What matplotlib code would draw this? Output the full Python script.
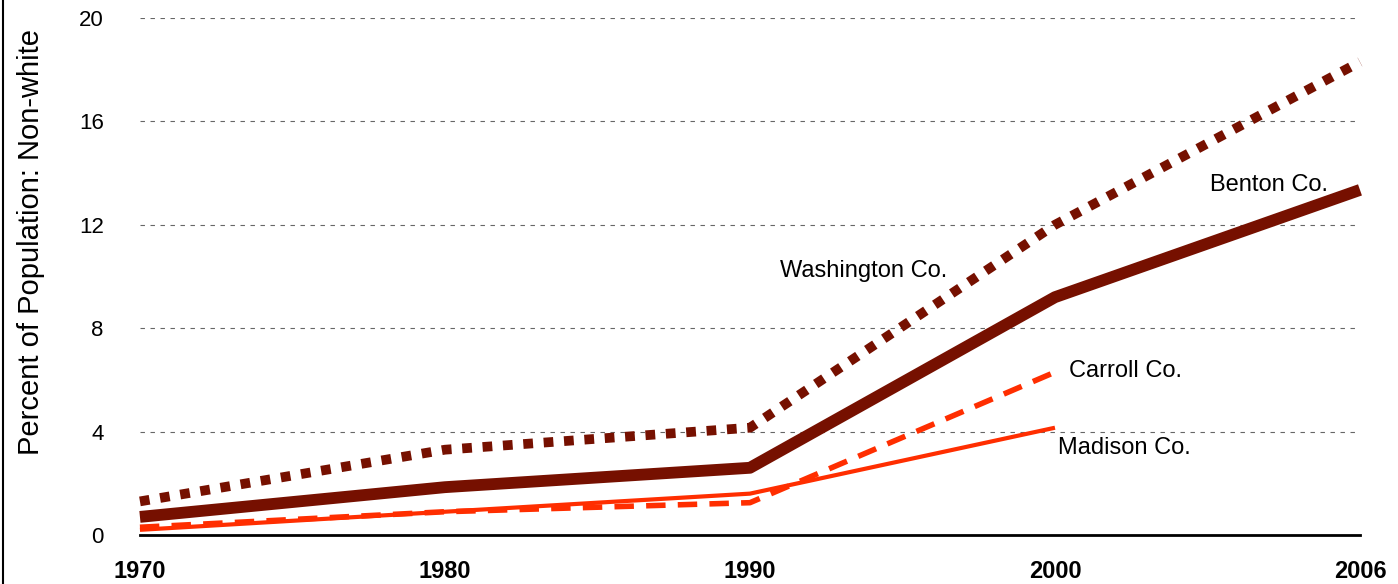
import numpy as np
import matplotlib
matplotlib.use("Agg")
import matplotlib.pyplot as plt
from matplotlib.lines import Line2D

plt.rcParams['font.family'] = ['Liberation Sans', 'DejaVu Sans']

# decades on the x axis (evenly spaced categories)
years = ['1970', '1980', '1990', '2000', '2006']
washington = [1.3, 3.3, 4.15, 12.0, 18.3]
benton = [0.7, 1.85, 2.6, 9.2, 13.35]
carroll = [0.3, 0.9, 1.25, 6.3]
madison = [0.2, 0.9, 1.6, 4.15]
yticks = [0, 4, 8, 12, 16, 20]

dark = '#761000'
bright = '#ff2e00'

fig = plt.figure(figsize=(13.98, 5.84), dpi=100)
ax = fig.add_axes([0.1001, 0.0839, 0.8727, 0.8853])

x = np.arange(len(years))
ax.plot(x[:len(madison)], madison, color=bright, lw=3, solid_capstyle='butt', clip_on=False)
ax.plot(x[:len(carroll)], carroll, color=bright, lw=4, linestyle=(0, (3.5, 2.2)), clip_on=False)
ax.plot(x, benton, color=dark, lw=8.5, solid_capstyle='butt', clip_on=False)
ax.plot(x, washington, color=dark, lw=7, linestyle=(0, (1, 1.1)), clip_on=False)

ax.set_xlim(0, len(years) - 1)
ax.set_ylim(0, 20)
ax.set_xticks(x)
ax.set_xticklabels(years, fontweight='bold', fontsize=17)
ax.set_yticks(yticks)
ax.set_yticklabels([str(v) for v in yticks], fontsize=16)
ax.tick_params(axis='both', length=0)
ax.tick_params(axis='x', pad=18)
ax.tick_params(axis='y', pad=26)

ax.grid(axis='y', linestyle=(0, (4, 5)), color='#666666', lw=0.8)
ax.set_axisbelow(True)
for s in ['left', 'right', 'top']:
    ax.spines[s].set_visible(False)
ax.spines['bottom'].set_linewidth(2)
ax.spines['bottom'].set_zorder(5)

ax.set_ylabel('Percent of Population: Non-white', fontsize=21)
ax.yaxis.set_label_coords(-0.078, 0.567)

ax.text(2.10, 10.2, 'Washington Co.', fontsize=17, va='center')
ax.text(3.508, 13.54, 'Benton Co.', fontsize=17, va='center')
ax.text(3.046, 6.34, 'Carroll Co.', fontsize=17, va='center')
ax.text(3.01, 3.37, 'Madison Co.', fontsize=17, va='center')

# thin frame line on the left edge
fig.add_artist(Line2D([0.002, 0.002], [0, 1], color='black', lw=1.5, transform=fig.transFigure))

fig.savefig('out.png', dpi=100)
